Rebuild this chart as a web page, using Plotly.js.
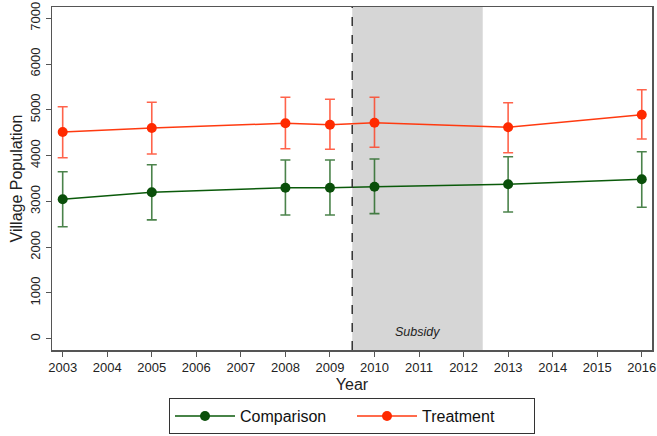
<!DOCTYPE html>
<html>
<head>
<meta charset="utf-8">
<script src="https://cdn.plot.ly/plotly-3.0.1.min.js"></script>
<style>html,body{margin:0;padding:0;background:#fff;}#chart{width:657px;height:436px;}</style>
</head>
<body>
<div id="chart"></div>
<script>
const years = [2003, 2005, 2008, 2009, 2010, 2013, 2016];
const treatment = [4515, 4603, 4705, 4675, 4718, 4618, 4893];
const treatmentUpper = [5068, 5164, 5273, 5229, 5273, 5155, 5439];
const treatmentLower = [3954, 4035, 4151, 4138, 4181, 4063, 4362];
const comparison = [3046, 3199, 3299, 3299, 3321, 3373, 3483];
const comparisonUpper = [3648, 3801, 3904, 3904, 3926, 3974, 4083];
const comparisonLower = [2448, 2597, 2703, 2703, 2732, 2769, 2871];
const xTicks = [2003, 2004, 2005, 2006, 2007, 2008, 2009, 2010, 2011, 2012, 2013, 2014, 2015, 2016];
const yTicks = [0, 1000, 2000, 3000, 4000, 5000, 6000, 7000];
const subsidyStart = 2009.5;
const subsidyEnd = 2012.43;

const plus = (u, v) => u.map((a, i) => a - v[i]);
const minus = (l, v) => v.map((a, i) => a - l[i]);

const traces = [
  {
    x: years, y: comparison, name: 'Comparison', type: 'scatter', mode: 'lines+markers',
    line: {color: '#0a5a0a', width: 1.5},
    marker: {color: '#0a4f0a', size: 10},
    error_y: {type: 'data', symmetric: false, array: plus(comparisonUpper, comparison),
      arrayminus: minus(comparisonLower, comparison), color: 'rgba(30,100,30,0.8)', thickness: 1.6, width: 5}
  },
  {
    x: years, y: treatment, name: 'Treatment', type: 'scatter', mode: 'lines+markers',
    line: {color: '#ff3a10', width: 1.5},
    marker: {color: '#ff2a00', size: 10},
    error_y: {type: 'data', symmetric: false, array: plus(treatmentUpper, treatment),
      arrayminus: minus(treatmentLower, treatment), color: 'rgba(255,60,30,0.8)', thickness: 1.6, width: 5}
  }
];

const layout = {
  width: 657, height: 436,
  margin: {l: 52, r: 5, t: 7, b: 86, autoexpand: false},
  paper_bgcolor: '#fff', plot_bgcolor: '#fff',
  font: {family: 'Liberation Sans, Arial, sans-serif', color: '#222'},
  showlegend: true,
  legend: {
    orientation: 'h', x: 0.5, xanchor: 'center', y: -0.245, yanchor: 'bottom',
    bordercolor: '#333', borderwidth: 1, font: {size: 16, color: '#111'},
    itemwidth: 60, tracegroupgap: 0, entrywidth: 107, entrywidthmode: 'pixels'
  },
  xaxis: {
    range: [2002.76, 2016.23], tickvals: xTicks, ticktext: xTicks.map(String),
    showgrid: false, zeroline: false, showline: true, linecolor: '#555', linewidth: 1.5, mirror: true,
    ticks: 'outside', ticklen: 5, tickcolor: '#555', tickfont: {size: 13, color: '#222'},
    title: {text: 'Year', font: {size: 16, color: '#222'}, standoff: 4}
  },
  yaxis: {
    range: [-245, 7245], tickvals: yTicks, ticktext: yTicks.map(String), tickangle: -90,
    showgrid: false, zeroline: false, showline: true, linecolor: '#555', linewidth: 1.5, mirror: true,
    ticks: 'outside', ticklen: 5, tickcolor: '#555', tickfont: {size: 13, color: '#222'},
    title: {text: 'Village Population', font: {size: 16, color: '#222'}, standoff: 1}
  },
  shapes: [
    {type: 'rect', xref: 'x', yref: 'paper', x0: subsidyStart, x1: subsidyEnd, y0: 0, y1: 1,
      fillcolor: '#d6d6d6', line: {width: 0}, layer: 'below'},
    {type: 'line', xref: 'x', yref: 'paper', x0: subsidyStart, x1: subsidyStart, y0: 0, y1: 1,
      line: {color: '#333', width: 1.5, dash: 'dash'}, layer: 'above'}
  ],
  annotations: [
    {x: (subsidyStart + subsidyEnd) / 2, y: 155, xref: 'x', yref: 'y', text: 'Subsidy', showarrow: false,
      font: {size: 12.5, color: '#222', family: 'Liberation Sans, Arial, sans-serif', style: 'italic'}}
  ]
};

Plotly.newPlot('chart', traces, layout, {displayModeBar: false, staticPlot: true});
</script>
</body>
</html>
